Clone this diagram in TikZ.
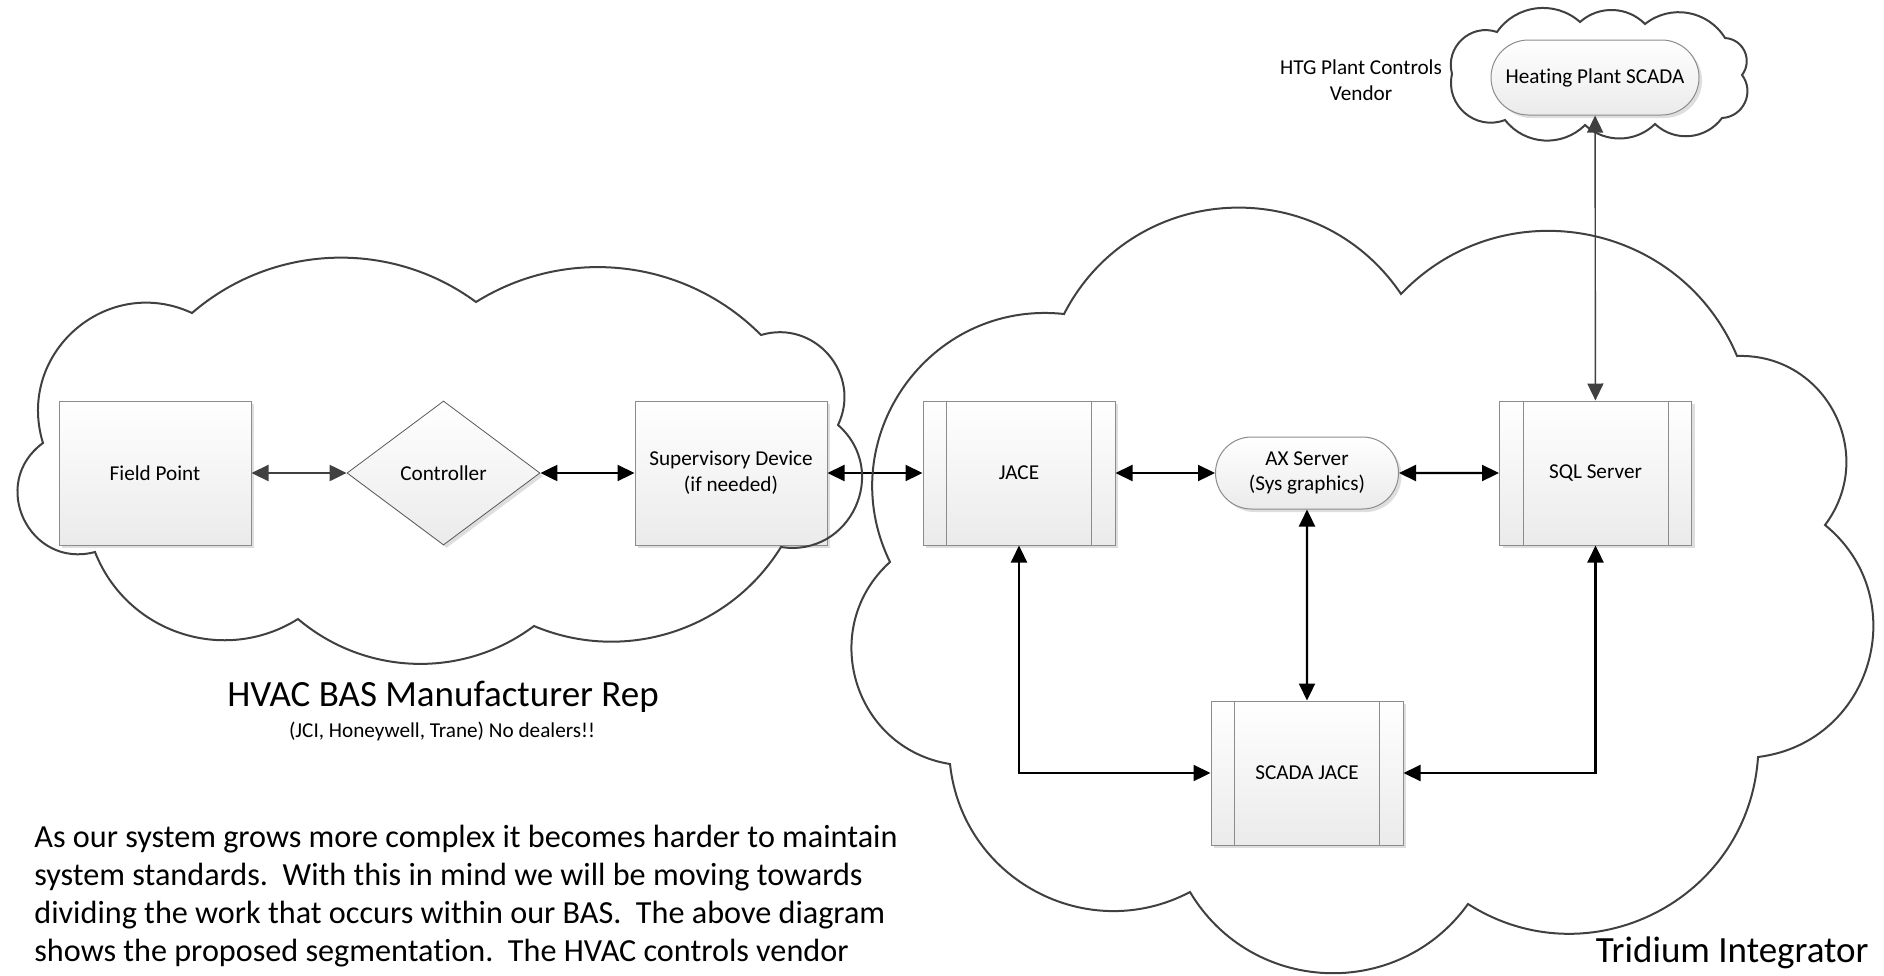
\documentclass[tikz,border=0pt]{standalone}
\usepackage{fontspec}
\setmainfont{Carlito}[Ligatures=NoCommon]
\usetikzlibrary{arrows.meta, calc, shapes.geometric, shapes.misc, shadows}

% one bump of a cloud: from #1 to #2, #3 = bulge over half chord
\newcommand{\cloudlobe}[3]{.. controls ($(#1)!{(1+#3*#3)/3}!{2*atan(#3)}:(#2)$) and ($(#2)!{(1+#3*#3)/3}!{-2*atan(#3)}:(#1)$) .. (#2)}

\tikzset{
  proc/.style={rectangle, draw=black!45, line width=0.5pt, top color=white, bottom color=black!8,
    minimum width=96pt, minimum height=72pt, inner sep=2pt, align=center,
    font=\fontsize{10.6pt}{12.9pt}\selectfont,
    drop shadow={shadow xshift=1.5pt, shadow yshift=-1.5pt, fill=black!13, opacity=1}},
  decide/.style={proc, diamond, draw=black!65, line width=0.4pt, inner sep=0pt,
    minimum width=96.5pt, minimum height=72pt},
  term/.style={proc, rounded rectangle, minimum width=95.5pt, minimum height=36pt},
  link/.style={<->, line width=1.1pt},
  glink/.style={<->, line width=1.1pt, black!75},
  cloudline/.style={draw=black!75, line width=1pt, line join=miter},
  lbl/.style={inner sep=0pt, font=\fontsize{18.5pt}{22pt}\selectfont},
  note/.style={inner sep=0pt, font=\fontsize{10.6pt}{12.9pt}\selectfont},
  para/.style={inner sep=0pt, align=left, font=\fontsize{16.1pt}{18.85pt}\selectfont}
}

\begin{document}
\begin{tikzpicture}[x=0.5pt, y=-0.5pt, >={Triangle[length=8.5pt, width=8pt]}]
    \useasboundingbox (0,0) rectangle (1884,975);

    % Vendor side
    \node[proc] (field) at (155,473) {Field Point};
    \node[decide] (ctrl) at (443.5,473) {Controller};
    \node[proc] (sup) at (731,473) {Supervisory Device\\(if needed)};

    % Integrator side
    \node[proc] (jace) at (1019,473) {JACE};
    \node[term] (ax) at (1307,473) {AX Server\\(Sys graphics)};
    \node[proc] (sql) at (1595.5,473) {SQL Server};
    \node[proc] (scada) at (1307,773) {SCADA JACE};
    \node[term, minimum width=108pt, minimum height=37.5pt] (heat) at (1595,77.5) {Heating Plant SCADA};
    \foreach \b in {jace, sql, scada} {
        \draw[black!45, line width=0.5pt] ([xshift=12pt]\b.north west) -- ([xshift=12pt]\b.south west);
        \draw[black!45, line width=0.5pt] ([xshift=-12pt]\b.north east) -- ([xshift=-12pt]\b.south east);
    }

    % Links
    \draw[glink] (field) -- (ctrl);
    \draw[link] (ctrl) -- (sup);
    \draw[link] (sup) -- (jace);
    \draw[link] (jace) -- (ax);
    \draw[link] (ax) -- (sql);
    \draw[link] (ax) -- (scada);
    \draw[link] (jace) |- (scada);
    \draw[link] (sql) |- (scada);
    \draw[glink, line width=0.7pt] (heat) -- (sql);

    % Texts
    \node[lbl] (hvac) at (443,697) {HVAC BAS Manufacturer Rep};
    \node[note] (dealers) at (442,731) {(JCI, Honeywell, Trane) No dealers!!};
    \node[lbl, anchor=east] (tridium) at (1869,953) {Tridium Integrator};
    \node[note, align=center] (htg) at (1361,80) {HTG Plant Controls\\Vendor};
    \node[para, anchor=base west] (para) at (34,961) {As our system grows more complex it becomes harder to maintain\\
        system standards.\ \ With this in mind we will be moving towards\\
        dividing the work that occurs within our BAS.\ \ The above diagram\\
        shows the proposed segmentation.\ \ The HVAC controls vendor};

    % Clouds
    \foreach \n/\x/\y in {1/192/313, 2/476/302, 3/761/335, 4/838/425, 5/781/547,
                          6/534/626, 7/298/619, 8/95/552, 9/43/443}
        \coordinate (l\n) at (\x,\y);
    \foreach \n/\x/\y in {1/1064/314, 2/1401/294, 3/1737/356, 4/1825/525, 5/1758/757,
                          6/1468/904, 7/1190/892, 8/950/764, 9/890/562}
        \coordinate (r\n) at (\x,\y);
    \foreach \n/\x/\y in {1/1452/74, 2/1497/32, 3/1580/22, 4/1645/24, 5/1725/38,
                          6/1742/75, 7/1722/118, 8/1655/124, 9/1585/125, 10/1505/120}
        \coordinate (h\n) at (\x,\y);

    \draw[cloudline] (l1) \cloudlobe{l1}{l2}{0.35} \cloudlobe{l2}{l3}{0.35} \cloudlobe{l3}{l4}{0.65}
        \cloudlobe{l4}{l5}{0.75} \cloudlobe{l5}{l6}{0.37} \cloudlobe{l6}{l7}{0.35}
        \cloudlobe{l7}{l8}{0.47} \cloudlobe{l8}{l9}{0.83} \cloudlobe{l9}{l1}{0.65} -- cycle;
    \draw[cloudline] (r1) \cloudlobe{r1}{r2}{0.57} \cloudlobe{r2}{r3}{0.54} \cloudlobe{r3}{r4}{0.63}
        \cloudlobe{r4}{r5}{0.66} \cloudlobe{r5}{r6}{0.57} \cloudlobe{r6}{r7}{0.54}
        \cloudlobe{r7}{r8}{0.53} \cloudlobe{r8}{r9}{0.63} \cloudlobe{r9}{r1}{0.59} -- cycle;
    \draw[cloudline] (h1) \cloudlobe{h1}{h2}{0.6} \cloudlobe{h2}{h3}{0.45} \cloudlobe{h3}{h4}{0.4}
        \cloudlobe{h4}{h5}{0.45} \cloudlobe{h5}{h6}{0.6} \cloudlobe{h6}{h7}{0.6}
        \cloudlobe{h7}{h8}{0.45} \cloudlobe{h8}{h9}{0.4} \cloudlobe{h9}{h10}{0.45}
        \cloudlobe{h10}{h1}{0.6} -- cycle;
\end{tikzpicture}
\end{document}
